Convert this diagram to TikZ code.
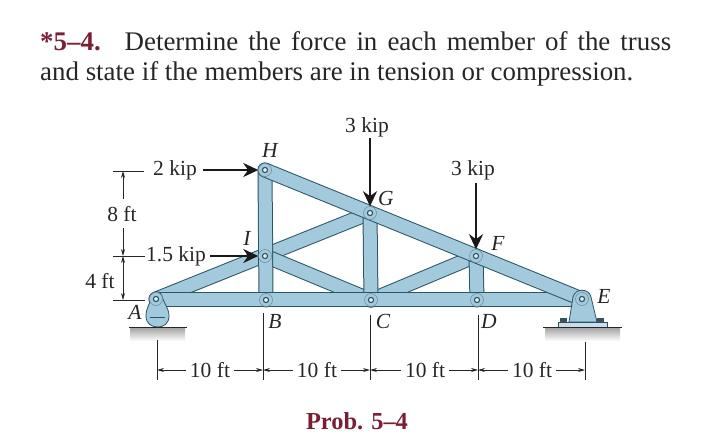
\documentclass[tikz,border=0pt]{standalone}
\usepackage{fontspec}
\setmainfont{Liberation Serif}
\usetikzlibrary{arrows.meta,positioning}
\definecolor{barblue}{HTML}{A3CADC}
\definecolor{barline}{HTML}{2A5566}
\definecolor{probred}{HTML}{7A1F33}
\tikzset{bar/.style={draw=barline,line width=15pt,line cap=round,postaction={draw=barblue,line width=13pt}}}
\tikzset{joint/.style={circle,draw=barline!70,line width=0.5pt,fill=barblue,minimum size=13pt,inner sep=0pt,path picture={\draw[barline,line width=1.1pt,fill=barblue!30] (path picture bounding box.center) circle (2.6pt);}}}
\tikzset{load/.style={-{Stealth[length=15pt,width=14pt]},line width=2.6pt,black!90}}
\tikzset{dimline/.style={line width=0.7pt,black!85}}
\tikzset{dimarrow/.style={-{Stealth[length=7pt,width=4pt]},line width=0.7pt,black!85}}
\tikzset{txt/.style={inner sep=0pt,font=\fontsize{21.5}{24}\selectfont,text=black!85}}
\tikzset{letter/.style={inner sep=0pt,font=\fontsize{21.5}{24}\selectfont\itshape,text=black!85}}
\tikzset{ground/.style={shading=axis,top color=gray!70,bottom color=white,draw=none}}
\begin{document}
\begin{tikzpicture}[x=1pt,y=-1pt]
\useasboundingbox (0,0) rectangle (720,447);
% \draw[help lines] (0,0) grid (720,447);
\node (statement) [anchor=north west,inner sep=0pt,text width=631pt,align=justify,font=\fontsize{26.9}{30}\selectfont,text=black!85] at (40,31.5) {\textcolor{probred}{\textbf{*5--4.}}\hspace{5pt} Determine the force in each member of the truss\linebreak and state if the members are in tension or compression.};
\node (prob) [font=\fontsize{24.4}{26}\selectfont\bfseries,text=probred] at (357,421) {Prob. 5--4};
%
\coordinate (a) at (156,299);
\coordinate (b) at (266,300);
\coordinate (c) at (371,300);
\coordinate (d) at (477,300);
\coordinate (e) at (582,299);
\coordinate (f) at (476,256);
\coordinate (g) at (370,213);
\coordinate (h) at (265,170);
\coordinate (i) at (265,256);
%
\fill[ground] (130,328) rectangle (185,341);
\fill[ground] (545,328) rectangle (620,341);
%
\draw[bar] (a) -- (g);
\draw[bar] (i) -- (c);
\draw[bar] (f) -- (c);
\draw[bar] (h) -- (b);
\draw[bar] (g) -- (c);
\draw[bar] (f) -- (d);
\draw[bar] (a) -- (e);
\draw[bar] (h) -- (e);
%
\draw[draw=barline,fill=barblue,line width=0.8pt] (146,316) .. controls (146,308) and (150,304) .. (152,296) .. controls (154,290) and (160,290) .. (162,296) .. controls (164,304) and (169,308) .. (169,316) .. controls (169,324) and (163,327) .. (158,327) .. controls (152,327) and (146,324) .. (146,316) -- cycle;
\draw[barline,line width=0.8pt] (150,317) -- (165,317);
\draw[draw=barline,fill=black!70,line width=0.5pt] (560,318) rectangle (566,323);
\draw[draw=barline,fill=black!70,line width=0.5pt] (597,318) rectangle (603,323);
\draw[draw=barline,fill=barblue,line width=0.8pt] (569,322) -- (573,297) .. controls (575,288) and (589,288) .. (591,297) -- (597,322) -- cycle;
\draw[draw=barline,fill=barblue!60,line width=0.8pt] (558,322) rectangle (607,327);
\draw[line width=1pt,black!85] (129,327) -- (187,327);
\draw[line width=1pt,black!85] (543,327) -- (622,327);
%
\node (pina) [joint] at (a) {};
\node (pinb) [joint] at (b) {};
\node (pinc) [joint] at (c) {};
\node (pind) [joint] at (d) {};
\node (pine) [joint] at (e) {};
\node (pinf) [joint] at (f) {};
\node (ping) [joint] at (g) {};
\node (pinh) [joint] at (h) {};
\node (pini) [joint] at (i) {};
%
\node (la) [letter] at (135,312) {A};
\node (lb) [letter] at (275,321) {B};
\node (lc) [letter] at (383,321) {C};
\node (ld) [letter] at (489,321) {D};
\node (le) [letter] at (604,296) {E};
\node (lf) [letter] at (498,243) {F};
\node (lg) [letter] at (386,198) {G};
\node (lh) [letter] at (270,150) {H};
\node (li) [letter] at (247,238) {I};
%
\node (kiph) [txt] at (175,170) {2 kip};
\node (kipi) [txt] at (176,256) {1.5 kip};
\node (kipg) [txt] at (367,127) {3 kip};
\node (kipf) [txt] at (473,170) {3 kip};
\coordinate (startg) at (370,138);
\coordinate (startf) at (476,183);
\coordinate (starth) at (203,170);
\coordinate (starti) at (210,256);
\path[load](starth) edge (pinh.west);
\path[load](starti) edge (pini.west);
\path[load](startg) edge (ping.north);
\path[load](startf) edge (pinf.north);
%
\node (ft8) [txt] at (122,214) {8 ft};
\node (ft4) [txt] at (100,281) {4 ft};
\coordinate (tl1) at (113,171);
\coordinate (tr1) at (144,171);
\coordinate (tl2) at (113,256);
\coordinate (tr2) at (145,256);
\coordinate (tl3) at (113,300);
\coordinate (tr3) at (145,300);
\coordinate (up8) at (123,199);
\coordinate (dn8) at (123,228);
\coordinate (mid4) at (123,278);
\coordinate (v1) at (123,171);
\coordinate (v2) at (123,256);
\coordinate (v3) at (123,300);
\draw[dimline] (tl1) -- (tr1);
\draw[dimline] (tl2) -- (tr2);
\draw[dimline] (tl3) -- (tr3);
\path[dimarrow](up8) edge (v1);
\path[dimarrow](dn8) edge (v2);
\path[dimarrow](mid4) edge (v2);
\path[dimarrow](mid4) edge (v3);
%
\coordinate (da1) at (157,340);
\coordinate (da2) at (157,380);
\coordinate (db1) at (263,313);
\coordinate (db2) at (263,380);
\coordinate (dc1) at (370,315);
\coordinate (dc2) at (370,380);
\coordinate (dd1) at (478,315);
\coordinate (dd2) at (478,380);
\coordinate (de1) at (585,342);
\coordinate (de2) at (585,380);
\coordinate (ta) at (157,370);
\coordinate (tb) at (263,370);
\coordinate (tc) at (370,370);
\coordinate (td) at (478,370);
\coordinate (te) at (585,370);
\draw[dimline] (da1) -- (da2);
\draw[dimline] (db1) -- (db2);
\draw[dimline] (dc1) -- (dc2);
\draw[dimline] (dd1) -- (dd2);
\draw[dimline] (de1) -- (de2);
\node (ft10a) [txt,inner xsep=4pt] at (210,370) {10 ft};
\node (ft10b) [txt,inner xsep=4pt] at (317,370) {10 ft};
\node (ft10c) [txt,inner xsep=4pt] at (425,370) {10 ft};
\node (ft10d) [txt,inner xsep=4pt] at (532,370) {10 ft};
\path[dimarrow](ft10a.west |- ta) edge (ta);
\path[dimarrow](ft10a.east |- tb) edge (tb);
\path[dimarrow](ft10b.west |- tb) edge (tb);
\path[dimarrow](ft10b.east |- tc) edge (tc);
\path[dimarrow](ft10c.west |- tc) edge (tc);
\path[dimarrow](ft10c.east |- td) edge (td);
\path[dimarrow](ft10d.west |- td) edge (td);
\path[dimarrow](ft10d.east |- te) edge (te);
\end{tikzpicture}
\end{document}
